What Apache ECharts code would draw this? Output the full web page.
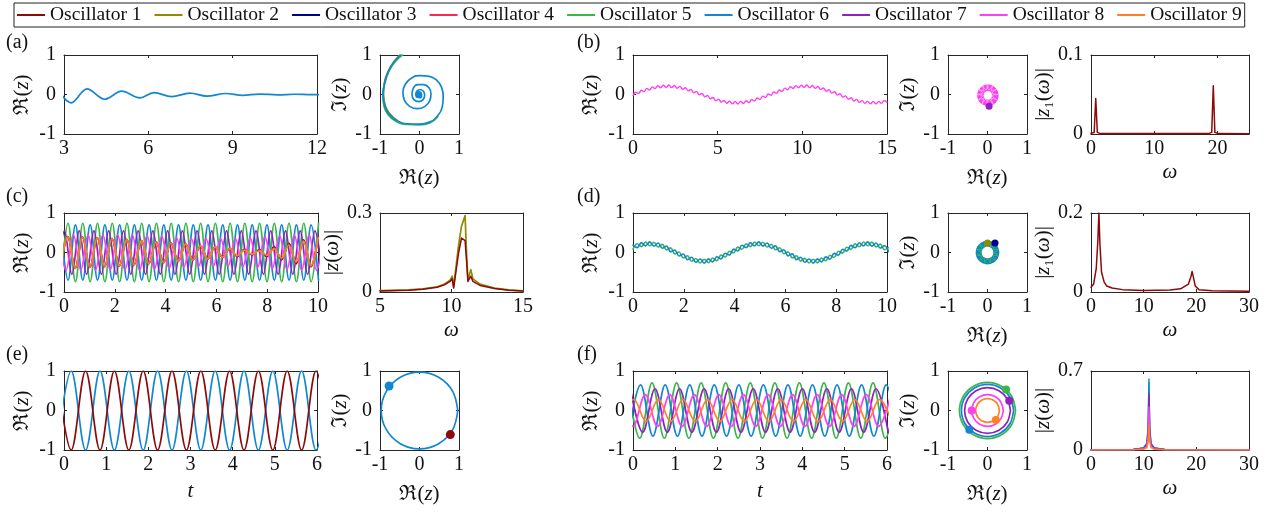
<!DOCTYPE html>
<html><head><meta charset="utf-8">
<script src="https://cdn.jsdelivr.net/npm/echarts/dist/echarts.min.js"></script>
<style>html,body{margin:0;padding:0;background:#fff}#c{width:1274px;height:516px}</style>
</head><body><div id="c"></div><script>
// ---------------- DATA ----------------
const NAMES = ['Oscillator 1','Oscillator 2','Oscillator 3','Oscillator 4','Oscillator 5','Oscillator 6','Oscillator 7','Oscillator 8','Oscillator 9'];
const COLORS = ['#8b0a0a','#8c8c00','#00008b','#ff2655','#3ab54a','#1187cf','#8e22bd','#ff3ff0','#ff8125'];

// (a) time series (extrema of damped oscillation)
const aT = [2.64, 3.26, 3.82, 4.45, 5.05, 5.70, 6.20, 6.83, 7.48, 8.08, 8.75, 9.35, 9.95, 10.6, 11.2, 11.8, 12.4];
const aV = [0.3, -0.21, 0.14, -0.12, 0.085, -0.085, 0.05, -0.055, 0.035, -0.04, 0.025, -0.02, 0.012, -0.01, 0.006, -0.004, 0.002];
// (a) phase spiral
const a2X = [-0.47,-0.62,-0.78,-0.88,-0.92,-0.88,-0.77,-0.58,-0.30,0.00,0.25,0.45,0.58,0.60,0.56,0.44,0.25,0.02,-0.20,-0.36,-0.42,-0.38,-0.25,-0.05,0.14,0.26,0.29,0.24,0.10,-0.05,-0.16,-0.19,-0.14,-0.02,0.09,0.13,0.10,0.02,-0.06,-0.09,-0.06,0.01,0.05,0.04,0.00,-0.03,-0.01];
const a2Y = [1.00,0.85,0.60,0.30,0.00,-0.28,-0.50,-0.66,-0.74,-0.75,-0.70,-0.55,-0.30,-0.05,0.18,0.36,0.46,0.48,0.42,0.26,0.05,-0.15,-0.30,-0.36,-0.30,-0.16,0.02,0.17,0.25,0.25,0.15,0.00,-0.13,-0.18,-0.13,-0.02,0.08,0.12,0.09,0.00,-0.07,-0.08,-0.03,0.03,0.04,0.01,-0.02];
const a2GX = [-0.43,-0.59,-0.76,-0.87,-0.93,-0.90,-0.79,-0.60,-0.31,0.00,0.26,0.46];
const a2GY = [1.00,0.86,0.62,0.31,0.00,-0.29,-0.52,-0.68,-0.76,-0.77,-0.72,-0.56];
const a2OX = [-0.50,-0.64,-0.79,-0.89,-0.91,-0.87,-0.75,-0.57];
const a2OY = [1.00,0.84,0.59,0.29,0.00,-0.27,-0.49,-0.65];
const aDot = [-0.02, 0.0];

// (b) time series (ripple extrema riding on slow wave)
const bT = [0,0.163,0.326,0.489,0.652,0.815,0.978,1.141,1.304,1.467,
 1.63,1.793,1.956,2.119,2.282,2.445,2.608,2.771,2.934,3.097,
 3.26,3.423,3.586,3.749,3.912,4.075,4.238,4.401,4.564,4.727,
 4.89,5.053,5.216,5.379,5.542,5.705,5.868,6.031,6.194,6.357,
 6.52,6.683,6.846,7.009,7.172,7.335,7.498,7.661,7.824,7.987,
 8.15,8.313,8.476,8.639,8.802,8.965,9.128,9.291,9.454,9.617,
 9.78,9.943,10.106,10.269,10.432,10.595,10.758,10.921,11.084,11.247,
 11.41,11.573,11.736,11.899,12.062,12.225,12.388,12.551,12.714,12.877,
 13.04,13.203,13.366,13.529,13.692,13.855,14.018,14.181,14.344,14.507,
 14.67,14.833,14.996];
const bV = [-0.03,0.056,0.023,0.108,0.072,0.154,0.114,0.193,0.148,0.221,
 0.17,0.237,0.18,0.239,0.176,0.229,0.159,0.206,0.13,0.172,
 0.091,0.128,0.044,0.079,-0.008,0.026,-0.06,-0.026,-0.111,-0.075,
 -0.157,-0.117,-0.195,-0.15,-0.222,-0.171,-0.237,-0.18,-0.239,-0.175,
 -0.228,-0.157,-0.204,-0.127,-0.168,-0.087,-0.125,-0.04,-0.075,0.012,
 -0.022,0.064,0.03,0.115,0.079,0.161,0.12,0.198,0.152,0.224,
 0.173,0.238,0.18,0.239,0.174,0.226,0.155,0.201,0.125,0.165,
 0.084,0.121,0.036,0.071,-0.016,0.018,-0.068,-0.034,-0.119,-0.082,
 -0.164,-0.123,-0.2,-0.154,-0.225,-0.174,-0.238,-0.18,-0.238,-0.173,
 -0.225,-0.153,-0.199];
// (b) phase ring: mean circle of the band, plus the looped texture inside it
const b2Circle = [[0.2,-0.02],[0.175,0.075],[0.105,0.145],[0.01,0.17],[-0.085,0.145],[-0.155,0.075],[-0.18,-0.02],[-0.155,-0.115],[-0.085,-0.185],[0.01,-0.21],[0.105,-0.185],[0.175,-0.115],[0.2,-0.02]];
const b2Ring = [[0.27,0],[0.116,0.031],[0.234,0.135],[0.085,0.085],[0.135,0.234],[0.031,0.116],[0,0.27],[-0.031,0.116],[-0.135,0.234],[-0.085,0.085],[-0.234,0.135],[-0.116,0.031],[-0.27,0],[-0.116,-0.031],[-0.234,-0.135],[-0.085,-0.085],[-0.135,-0.234],[-0.031,-0.116],[0,-0.27],[0.031,-0.116],[0.135,-0.234],[0.085,-0.085],[0.234,-0.135],[0.116,-0.031],[0.27,0]];
const bDot = [0.04, -0.3];
// (b) spectrum
const bSpecW = [0, 0.5, 0.75, 1.0, 1.5, 18.6, 19.1, 19.35, 19.6, 20.1, 25];
const bSpecA = [0.001, 0.002, 0.045, 0.002, 0.0005, 0.0005, 0.002, 0.061, 0.002, 0.0005, 0.0003];

// (c) time series
const cT = [-0.13,0.16,0.45,0.74,1.03,1.32,1.61,1.90,2.19,2.48,2.77,3.06,3.35,3.64,3.93,4.22,4.51,4.80,5.09,5.38,5.67,5.96,6.25,6.54,6.83,7.12,7.41,7.70,7.99,8.28,8.57,8.86,9.15,9.44,9.73,10.02];
const cBlue = [0.7,-0.7,0.7,-0.7,0.7,-0.7,0.7,-0.7,0.7,-0.7,0.7,-0.7,0.7,-0.7,0.7,-0.7,0.7,-0.7,0.7,-0.7,0.7,-0.7,0.7,-0.7,0.7,-0.7,0.7,-0.7,0.7,-0.7,0.7,-0.7,0.7,-0.7,0.7,-0.7];
const cGreen = [-0.74,0.74,-0.74,0.74,-0.74,0.74,-0.74,0.74,-0.74,0.74,-0.74,0.74,-0.74,0.74,-0.74,0.74,-0.74,0.74,-0.74,0.74,-0.74,0.74,-0.74,0.74,-0.74,0.74,-0.74,0.74,-0.74,0.74,-0.74,0.74,-0.74,0.74,-0.74,0.74];
const cPurT = [-0.27,0.02,0.31,0.60,0.89,1.18,1.47,1.76,2.05,2.34,2.63,2.92,3.21,3.50,3.79,4.08,4.37,4.66,4.95,5.24,5.53,5.82,6.11,6.40,6.69,6.98,7.27,7.56,7.85,8.14,8.43,8.72,9.01,9.30,9.59,9.88,10.17];
const cPur = [-0.55,0.55,-0.55,0.55,-0.55,0.55,-0.55,0.55,-0.55,0.55,-0.55,0.55,-0.55,0.55,-0.55,0.55,-0.55,0.55,-0.55,0.55,-0.55,0.55,-0.55,0.55,-0.55,0.55,-0.55,0.55,-0.55,0.55,-0.55,0.55,-0.55,0.55,-0.55,0.55,-0.55];
const cMagT = [-0.21,0.08,0.37,0.66,0.95,1.24,1.53,1.82,2.11,2.40,2.69,2.98,3.27,3.56,3.85,4.14,4.43,4.72,5.01,5.30,5.59,5.88,6.17,6.46,6.75,7.04,7.33,7.62,7.91,8.20,8.49,8.78,9.07,9.36,9.65,9.94,10.23];
const cMag = [0.45,-0.45,0.45,-0.45,0.45,-0.45,0.45,-0.45,0.45,-0.45,0.45,-0.45,0.43,-0.42,0.41,-0.4,0.38,-0.37,0.36,-0.35,0.35,-0.35,0.35,-0.35,0.35,-0.36,0.37,-0.38,0.4,-0.41,0.42,-0.43,0.44,-0.45,0.45,-0.45,0.45];
const cOrT = [-0.14,0.15,0.44,0.73,1.02,1.31,1.60,1.89,2.18,2.47,2.76,3.05,3.34,3.63,3.92,4.21,4.50,4.79,5.08,5.37,5.66,5.95,6.24,6.53,6.82,7.11,7.40,7.69,7.98,8.27,8.56,8.85,9.14,9.43,9.72,10.01];
const cOr = [-0.40,0.40,-0.40,0.39,-0.38,0.37,-0.36,0.35,-0.34,0.33,-0.31,0.30,-0.28,0.27,-0.26,0.24,-0.22,0.21,-0.19,0.17,-0.16,0.14,-0.12,0.10,-0.08,0.06,-0.04,0.04,-0.07,0.10,-0.14,0.19,-0.24,0.29,-0.34,0.38];
const cRed = [-0.40,0.40,-0.40,0.39,-0.38,0.37,-0.36,0.35,-0.34,0.33,-0.31,0.30,-0.28,0.27,-0.26,0.24,-0.22,0.21,-0.19,0.17,-0.16,0.14,-0.12,0.10,-0.10,0.08,-0.06,0.07,-0.10,0.14,-0.18,0.23,-0.28,0.32,-0.36,0.40];
// (c) spectrum
const cSpecW = [5, 7, 8, 9, 9.5, 9.9, 10.05, 10.15, 10.5, 10.7, 10.95, 11.05, 11.15, 11.35, 11.5, 12, 13, 14, 15];
const cSpecOlive = [0.005, 0.008, 0.012, 0.02, 0.03, 0.045, 0.06, 0.02, 0.18, 0.25, 0.29, 0.15, 0.045, 0.085, 0.05, 0.03, 0.015, 0.008, 0.004];
const cSpecRed = [0.004, 0.007, 0.01, 0.018, 0.027, 0.04, 0.05, 0.015, 0.15, 0.205, 0.195, 0.12, 0.04, 0.06, 0.04, 0.025, 0.013, 0.007, 0.004];

// (d) time series
const dT = [0,0.165,0.33,0.495,0.66,0.825,0.99,1.155,1.32,1.485,
 1.65,1.815,1.98,2.145,2.31,2.475,2.64,2.805,2.97,3.135,
 3.3,3.465,3.63,3.795,3.96,4.125,4.29,4.455,4.62,4.785,
 4.95,5.115,5.28,5.445,5.61,5.775,5.94,6.105,6.27,6.435,
 6.6,6.765,6.93,7.095,7.26,7.425,7.59,7.755,7.92,8.085,
 8.25,8.415,8.58,8.745,8.91,9.075,9.24,9.405,9.57,9.735,
 9.9,10.065];
const dBlue = [0.186,0.123,0.25,0.166,0.27,0.16,0.239,0.106,0.165,0.017,
 0.065,-0.088,-0.039,-0.184,-0.122,-0.25,-0.166,-0.27,-0.161,-0.24,
 -0.107,-0.166,-0.018,-0.067,0.086,0.037,0.183,0.121,0.249,0.166,
 0.27,0.161,0.241,0.109,0.168,0.02,0.068,-0.085,-0.036,-0.182,
 -0.12,-0.248,-0.165,-0.27,-0.162,-0.241,-0.11,-0.169,-0.022,-0.07,
 0.083,0.034,0.18,0.119,0.248,0.165,0.27,0.162,0.242,0.111,
 0.171,0.023];
const dGreen = [0.086,0.223,0.15,0.266,0.17,0.26,0.139,0.206,0.065,0.117,
 -0.035,0.012,-0.139,-0.084,-0.222,-0.15,-0.266,-0.17,-0.261,-0.14,
 -0.207,-0.066,-0.118,0.033,-0.014,0.137,0.083,0.221,0.149,0.266,
 0.17,0.261,0.141,0.209,0.068,0.12,-0.032,0.015,-0.136,-0.082,
 -0.22,-0.148,-0.265,-0.17,-0.262,-0.141,-0.21,-0.069,-0.122,0.03,
 -0.017,0.134,0.08,0.219,0.148,0.265,0.17,0.262,0.142,0.211,
 0.071,0.123];
// (d) phase ring: mean circle of the band and green looped texture
const d2Circle = [[0.225,0],[0.195,0.113],[0.113,0.195],[0,0.225],[-0.113,0.195],[-0.195,0.113],[-0.225,0],[-0.195,-0.113],[-0.113,-0.195],[0,-0.225],[0.113,-0.195],[0.195,-0.113],[0.225,0]];
const d2RingGreen = [[0.16,0],[0.28,0.075],[0.139,0.08],[0.205,0.205],[0.08,0.139],[0.075,0.28],[0,0.16],[-0.075,0.28],[-0.08,0.139],[-0.205,0.205],[-0.139,0.08],[-0.28,0.075],[-0.16,0],[-0.28,-0.075],[-0.139,-0.08],[-0.205,-0.205],[-0.08,-0.139],[-0.075,-0.28],[0,-0.16],[0.075,-0.28],[0.08,-0.139],[0.205,-0.205],[0.139,-0.08],[0.28,-0.075],[0.16,0]];
const dDotOlive = [0.0, 0.24];
const dDotNavy = [0.19, 0.24];
// (d) spectrum
const dSpecW = [0, 0.5, 1.0, 1.3, 1.5, 1.7, 2.0, 2.5, 3, 4, 6, 10, 15, 17, 18.5, 19.0, 19.2, 19.4, 19.8, 20.5, 23, 30];
const dSpecA = [0.012, 0.02, 0.06, 0.13, 0.2, 0.12, 0.05, 0.025, 0.015, 0.01, 0.006, 0.004, 0.005, 0.008, 0.02, 0.04, 0.052, 0.04, 0.015, 0.006, 0.003, 0.002];

// (e) time series (extrema)
const eT = [-0.171,0.171,0.512,0.854,1.195,1.537,1.878,2.22,2.561,2.903,3.244,3.586,3.927,4.269,4.61,4.952,5.293,5.635,5.976,6.318];
const eBlue = [-1,1,-1,1,-1,1,-1,1,-1,1,-1,1,-1,1,-1,1,-1,1,-1,1];
const eRed = [1,-1,1,-1,1,-1,1,-1,1,-1,1,-1,1,-1,1,-1,1,-1,1,-1];
// (e) phase circle
const e2Circle = [[0.97,0],[0.84,0.485],[0.485,0.84],[0,0.97],[-0.485,0.84],[-0.84,0.485],[-0.97,0],[-0.84,-0.485],[-0.485,-0.84],[0,-0.97],[0.485,-0.84],[0.84,-0.485],[0.97,0]];
const eDotBlue = [-0.77, 0.62];
const eDotRed = [0.78, -0.61];

// (f) time series (extrema)
const fBlueT = [-0.11,0.18,0.47,0.76,1.05,1.34,1.63,1.92,2.21,2.50,2.79,3.08,3.37,3.66,3.95,4.24,4.53,4.82,5.11,5.40,5.69,5.98,6.27];
const fBlue = [-0.65,0.65,-0.65,0.65,-0.65,0.65,-0.65,0.65,-0.65,0.65,-0.65,0.65,-0.65,0.65,-0.65,0.65,-0.65,0.65,-0.65,0.65,-0.65,0.65,-0.65];
const fGreenT = [-0.13,0.16,0.45,0.74,1.03,1.32,1.61,1.90,2.19,2.48,2.77,3.06,3.35,3.64,3.93,4.22,4.51,4.80,5.09,5.38,5.67,5.96,6.25];
const fGreen = [0.7,-0.7,0.7,-0.7,0.7,-0.7,0.7,-0.7,0.7,-0.7,0.7,-0.7,0.7,-0.7,0.7,-0.7,0.7,-0.7,0.7,-0.7,0.7,-0.7,0.7];
const fPurT = [-0.06,0.23,0.52,0.81,1.10,1.39,1.68,1.97,2.26,2.55,2.84,3.13,3.42,3.71,4.00,4.29,4.58,4.87,5.16,5.45,5.74,6.03];
const fPur = [0.55,-0.55,0.55,-0.55,0.55,-0.55,0.55,-0.55,0.55,-0.55,0.55,-0.55,0.55,-0.55,0.55,-0.55,0.55,-0.55,0.55,-0.55,0.55,-0.55];
const fMagT = [-0.29,0.00,0.29,0.58,0.87,1.16,1.45,1.74,2.03,2.32,2.61,2.90,3.19,3.48,3.77,4.06,4.35,4.64,4.93,5.22,5.51,5.80,6.09];
const fMag = [0.4,-0.4,0.4,-0.4,0.4,-0.4,0.4,-0.4,0.4,-0.4,0.4,-0.4,0.4,-0.4,0.4,-0.4,0.4,-0.4,0.4,-0.4,0.4,-0.4,0.4];
const fOrT = [-0.27,0.02,0.31,0.60,0.89,1.18,1.47,1.76,2.05,2.34,2.63,2.92,3.21,3.50,3.79,4.08,4.37,4.66,4.95,5.24,5.53,5.82,6.11];
const fOr = [-0.28,0.28,-0.28,0.28,-0.28,0.28,-0.28,0.28,-0.28,0.28,-0.28,0.28,-0.28,0.28,-0.28,0.28,-0.28,0.28,-0.28,0.28,-0.28,0.28,-0.28];
// (f) phase rings
const f2Green = [[0.71,0],[0.615,0.355],[0.355,0.615],[0,0.71],[-0.355,0.615],[-0.615,0.355],[-0.71,0],[-0.615,-0.355],[-0.355,-0.615],[0,-0.71],[0.355,-0.615],[0.615,-0.355],[0.71,0]];
const f2Blue = [[0.66,0],[0.572,0.33],[0.33,0.572],[0,0.66],[-0.33,0.572],[-0.572,0.33],[-0.66,0],[-0.572,-0.33],[-0.33,-0.572],[0,-0.66],[0.33,-0.572],[0.572,-0.33],[0.66,0]];
const f2Pur = [[0.58,0],[0.502,0.29],[0.29,0.502],[0,0.58],[-0.29,0.502],[-0.502,0.29],[-0.58,0],[-0.502,-0.29],[-0.29,-0.502],[0,-0.58],[0.29,-0.502],[0.502,-0.29],[0.58,0]];
const f2Mag = [[0.4,0],[0.346,0.2],[0.2,0.346],[0,0.4],[-0.2,0.346],[-0.346,0.2],[-0.4,0],[-0.346,-0.2],[-0.2,-0.346],[0,-0.4],[0.2,-0.346],[0.346,-0.2],[0.4,0]];
const f2Or = [[0.3,0],[0.26,0.15],[0.15,0.26],[0,0.3],[-0.15,0.26],[-0.26,0.15],[-0.3,0],[-0.26,-0.15],[-0.15,-0.26],[0,-0.3],[0.15,-0.26],[0.26,-0.15],[0.3,0]];
const fDotGreen = [0.47, 0.53];
const fDotPur = [0.55, 0.25];
const fDotMag = [-0.4, 0.0];
const fDotOr = [0.21, -0.24];
const fDotBlue = [-0.46, -0.49];
// (f) spectrum
const fSpecW = [0, 8, 10, 10.6, 10.85, 11.0, 11.15, 11.4, 12, 14, 30];
const fSpecGreen = [0.002, 0.004, 0.015, 0.05, 0.19, 0.6, 0.19, 0.05, 0.015, 0.004, 0.001];
const fSpecBlue = [0.002, 0.005, 0.02, 0.06, 0.21, 0.63, 0.21, 0.06, 0.02, 0.005, 0.001];
const fSpecPur = [0.001, 0.004, 0.015, 0.045, 0.16, 0.5, 0.16, 0.045, 0.015, 0.004, 0.001];
const fSpecMag = [0.001, 0.003, 0.01, 0.03, 0.12, 0.38, 0.12, 0.03, 0.01, 0.003, 0.001];
const fSpecOr = [0.001, 0.002, 0.006, 0.02, 0.07, 0.22, 0.07, 0.02, 0.006, 0.002, 0.001];

// ---------------- LAYOUT ----------------
const F = "'Liberation Serif','DejaVu Serif',serif";
const TXT = '#111', AXC = '#262626';
const RE = 'ℜ({i|z})', IM = 'ℑ({i|z})', ABS = '|{i|z}({i|ω})|', ABS1 = '|{i|z}₁({i|ω})|', OM = '{i|ω}', TT = '{i|t}';
const P = [
 {r:[64,55,253,79],  x:[3,12,3],  y:[-1,1,1],   yn:RE,  yg:31},
 {r:[380,55,79,79],  x:[-1,1,1],  y:[-1,1,1],   yn:IM,  yg:28, xn:RE, xg:34},
 {r:[633,55,254,79], x:[0,15,5],  y:[-1,1,1],   yn:RE,  yg:31},
 {r:[948,55,79,79],  x:[-1,1,1],  y:[-1,1,1],   yn:IM,  yg:28, xn:RE, xg:34},
 {r:[1091,55,158,79],x:[0,25,10], y:[0,0.1,0.1],yn:ABS1,yg:26, xn:OM, xg:28, noMax:true},
 {r:[64,213,254,79], x:[0,10,2],  y:[-1,1,1],   yn:RE,  yg:31},
 {r:[380,213,143,79],x:[5,15,5],  y:[0,0.3,0.3],yn:ABS, yg:26, xn:OM, xg:28},
 {r:[633,213,254,79],x:[0,10,2],  y:[-1,1,1],   yn:RE,  yg:31},
 {r:[948,213,79,79], x:[-1,1,1],  y:[-1,1,1],   yn:IM,  yg:28, xn:RE, xg:34},
 {r:[1091,213,158,79],x:[0,30,10],y:[0,0.2,0.2],yn:ABS1,yg:26, xn:OM, xg:28},
 {r:[64,371,253,79], x:[0,6,1],   y:[-1,1,1],   yn:RE,  yg:31, xn:TT, xg:31},
 {r:[380,371,79,79], x:[-1,1,1],  y:[-1,1,1],   yn:IM,  yg:28, xn:RE, xg:34},
 {r:[633,371,254,79],x:[0,6,1],   y:[-1,1,1],   yn:RE,  yg:31, xn:TT, xg:31},
 {r:[948,371,79,79], x:[-1,1,1],  y:[-1,1,1],   yn:IM,  yg:28, xn:RE, xg:34},
 {r:[1091,371,158,79],x:[0,30,10],y:[0,0.7,0.7],yn:ABS, yg:26, xn:OM, xg:28}
];
const nameStyle = {color:TXT, fontFamily:F, fontSize:21, rich:{i:{fontStyle:'italic', fontFamily:F, fontSize:21, color:TXT}}};
const grid = [], xAxis = [], yAxis = [];
function ax(i, pos, m, showLbl, isX, extra) {
  return Object.assign({
    type:'value', gridIndex:i, position:pos, min:m[0], max:m[1], interval:m[2],
    axisLine:{show:true, onZero:false, lineStyle:{color:AXC, width:1}},
    axisTick:{show:true, inside:true, length:3, lineStyle:{color:AXC, width:1}},
    axisLabel:{show:showLbl, color:TXT, fontFamily:F, fontSize:20, margin:isX?5:8},
    splitLine:{show:false}
  }, extra || {});
}
P.forEach((p, i) => {
  grid.push({left:p.r[0], top:p.r[1], width:p.r[2], height:p.r[3]});
  const bx = ax(i, 'bottom', p.x, true, true,
    p.xn ? {name:p.xn, nameLocation:'middle', nameGap:p.xg, nameTextStyle:nameStyle} : {});
  if (p.noMax) bx.axisLabel.showMaxLabel = false;
  xAxis.push(bx);
  xAxis.push(ax(i, 'top', p.x, false, true));
  yAxis.push(ax(i, 'left', p.y, true, false,
    {name:p.yn, nameLocation:'middle', nameGap:p.yg, nameRotate:90, nameTextStyle:nameStyle}));
  yAxis.push(ax(i, 'right', p.y, false, false));
});

const zip = (xs, ys) => xs.map((x, k) => [x, ys[k]]);
function L(gi, k, data, smooth, w, colorOverride) {
  const c = colorOverride || COLORS[k-1];
  return {type:'line', name:NAMES[k-1], xAxisIndex:2*gi, yAxisIndex:2*gi, data,
    symbol:'none', smooth: smooth === undefined ? 0.36 : smooth, clip:true, silent:true,
    lineStyle:{color:c, width: w || 1.7, cap:'round', join:'round'}, itemStyle:{color:COLORS[k-1]}};
}
function D(gi, k, pt, size) {
  const c = COLORS[k-1];
  return {type:'scatter', name:NAMES[k-1], xAxisIndex:2*gi, yAxisIndex:2*gi, data:[pt],
    symbol:'circle', symbolSize:size, silent:true, itemStyle:{color:c, opacity:1}, z:5};
}
const series = [
  L(0,6,zip(aT,aV)),
  L(1,2,zip(a2OX,a2OY),0.5), L(1,5,zip(a2GX,a2GY),0.5), L(1,6,zip(a2X,a2Y),0.5), D(1,6,aDot,7),
  L(2,8,zip(bT,bV),0.36,1.4),
  L(3,8,b2Circle,0.35,6.5), L(3,8,b2Ring,0.5,0.8,'#ffb8fa'), D(3,7,bDot,7),
  L(4,1,zip(bSpecW,bSpecA),false,1.5),
  L(5,4,zip(cOrT,cRed)), L(5,1,zip(cOrT,cRed)), L(5,6,zip(cT,cBlue)), L(5,5,zip(cT,cGreen)),
  L(5,7,zip(cPurT,cPur)), L(5,8,zip(cMagT,cMag)), L(5,9,zip(cOrT,cOr)),
  L(6,2,zip(cSpecW,cSpecOlive),false,1.7), L(6,1,zip(cSpecW,cSpecRed),false,1.5),
  L(7,5,zip(dT,dGreen),0.36,1.6), L(7,6,zip(dT,dBlue),0.36,1.6),
  L(8,6,d2Circle,0.35,6), L(8,5,d2RingGreen,0.5,1), D(8,2,dDotOlive,7), D(8,3,dDotNavy,7),
  L(9,1,zip(dSpecW,dSpecA),false,1.5),
  L(10,6,zip(eT,eBlue)), L(10,1,zip(eT,eRed)),
  L(11,6,e2Circle,0.35), D(11,6,eDotBlue,9), D(11,1,eDotRed,9),
  L(12,5,zip(fGreenT,fGreen)), L(12,6,zip(fBlueT,fBlue)), L(12,7,zip(fPurT,fPur)),
  L(12,8,zip(fMagT,fMag)), L(12,9,zip(fOrT,fOr)),
  L(13,5,f2Green,0.35), L(13,6,f2Blue,0.35), L(13,7,f2Pur,0.35), L(13,8,f2Mag,0.35), L(13,9,f2Or,0.35),
  D(13,5,fDotGreen,8), D(13,7,fDotPur,8), D(13,8,fDotMag,8), D(13,9,fDotOr,8), D(13,6,fDotBlue,8),
  L(14,5,zip(fSpecW,fSpecGreen),false,1.4), L(14,6,zip(fSpecW,fSpecBlue),false,1.4),
  L(14,7,zip(fSpecW,fSpecPur),false,1.4), L(14,8,zip(fSpecW,fSpecMag),false,1.4),
  L(14,9,zip(fSpecW,fSpecOr),false,1.4)
];
const LBL = [['(a)',6,33],['(b)',577,33],['(c)',6,187],['(d)',577,187],['(e)',6,345],['(f)',577,345]];
const title = LBL.map(l => ({text:l[0], left:l[1], top:l[2], padding:0,
  textStyle:{fontFamily:F, fontSize:20, fontWeight:'normal', color:TXT}}));

const chart = echarts.init(document.getElementById('c'), null, {renderer:'canvas'});
chart.setOption({
  animation:false, backgroundColor:'#fff', title, grid, xAxis, yAxis, series,
  legend:{data:NAMES, left:14, top:3, orient:'horizontal', icon:'rect', itemWidth:28, itemHeight:2,
    itemGap:13, padding:[2,3], borderColor:'#222', borderWidth:1, selectedMode:false,
    textStyle:{fontFamily:F, fontSize:19.5, color:TXT}}
});
</script></body></html>
